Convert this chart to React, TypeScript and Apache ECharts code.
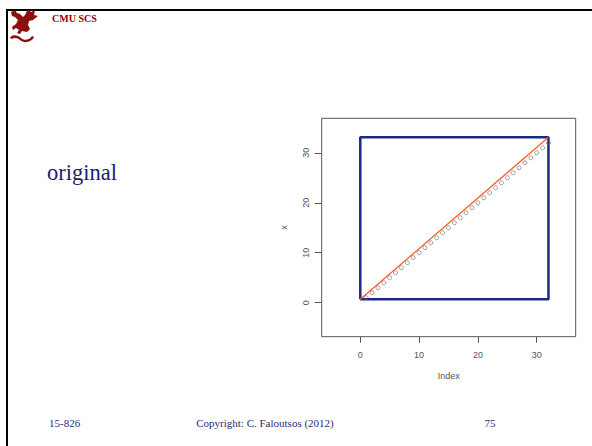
import React, { useEffect, useRef } from "react";
import * as echarts from "echarts";

const indexVals = [1, 2, 3, 4, 5, 6, 7, 8, 9, 10, 11, 12, 13, 14, 15, 16, 17, 18, 19, 20, 21, 22, 23, 24, 25, 26, 27, 28, 29, 30, 31, 32];
const xVals = [1, 2, 3, 4, 5, 6, 7, 8, 9, 10, 11, 12, 13, 14, 15, 16, 17, 18, 19, 20, 21, 22, 23, 24, 25, 26, 27, 28, 29, 30, 31, 32];
const boxX = [0, 32, 32, 0, 0];
const boxY = [0.7, 0.7, 33.1, 33.1, 0.7];
const fitX = [0, 32];
const fitY = [0.7, 33.1];
const xTicks = [0, 10, 20, 30];
const yTicks = [0, 10, 20, 30];

const dragonPath =
  "M3 4 L7 2 L9 5 L12 6 L15 9 L17 7 L20 1 L23 4 L27 2 L26 7 L30 8 L25 12 L21 13 L20 17 L22 21 L19 24 L14 23 L12 26 L9 25 L11 22 L8 20 L5 22 L4 19 L8 16 L10 12 L7 9 L4 8 Z M2 30 C4 26 10 27 13 30 C16 33 22 32 24 28 L26 29 C24 34 16 36 12 32 C10 30 6 29 4 31 Z";

let registered = false;

export default function App() {
  const ref = useRef<HTMLDivElement>(null);
  useEffect(() => {
    if (!registered) {
      echarts.graphic.registerShape("logo", echarts.graphic.extendPath(dragonPath, {}) as any);
      registered = true;
    }
    const chart = echarts.init(ref.current!, undefined, { renderer: "svg" });
    const axisFont = { fontFamily: "Liberation Sans, Arial, sans-serif", fontSize: 9, color: "#555" };
    const serif = "'Liberation Serif', 'Times New Roman', serif";
    chart.setOption({
      animation: false,
      backgroundColor: "#ffffff",
      grid: {
        left: 321.7,
        right: 16.3,
        top: 118.3,
        bottom: 109.3,
        show: true,
        borderColor: "#555",
        borderWidth: 1,
        backgroundColor: "transparent",
      },
      xAxis: {
        type: "value",
        min: -6.56,
        max: 36.63,
        name: "Index",
        nameLocation: "middle",
        nameGap: 35,
        nameTextStyle: axisFont,
        axisLine: { show: false, onZero: false },
        axisTick: { show: true, length: 6, customValues: xTicks, lineStyle: { color: "#555" } },
        axisLabel: { ...axisFont, margin: 14, customValues: xTicks },
        splitLine: { show: false },
      },
      yAxis: {
        type: "value",
        min: -6.8,
        max: 36.9,
        name: "x",
        nameLocation: "middle",
        nameGap: 33,
        nameMoveOverlap: false,
        nameTextStyle: axisFont,
        axisLine: { show: false, onZero: false },
        axisTick: { show: true, length: 7, customValues: yTicks, lineStyle: { color: "#555" } },
        axisLabel: { ...axisFont, margin: 11, rotate: 90, customValues: yTicks },
        splitLine: { show: false },
      },
      series: [
        {
          type: "line",
          data: boxX.map((v, i) => [v, boxY[i]]),
          symbol: "none",
          lineStyle: { color: "#1a2a80", width: 2.5 },
          z: 2,
        },
        {
          type: "line",
          data: fitX.map((v, i) => [v, fitY[i]]),
          symbol: "none",
          lineStyle: { color: "#ff5a1f", width: 1.2 },
          z: 3,
        },
        {
          type: "scatter",
          data: indexVals.map((v, i) => [v, xVals[i]]),
          symbol: "circle",
          symbolSize: 4,
          itemStyle: { color: "rgba(255,255,255,0)", borderColor: "#666", borderWidth: 0.8 },
          z: 4,
        },
      ],
      graphic: [
        {
          type: "rect",
          shape: { x: 7, y: 10, width: 700, height: 600 },
          style: { fill: "none", stroke: "#000", lineWidth: 2 },
          silent: true,
        },
        {
          type: "logo",
          x: 8,
          y: 8,
          scaleX: 1,
          scaleY: 1,
          style: { fill: "#8b1010" },
        },
        {
          type: "text",
          x: 52,
          y: 18,
          style: { text: "CMU SCS", font: `bold 10px ${serif}`, fill: "#990000", verticalAlign: "middle" },
        },
        {
          type: "text",
          x: 47,
          y: 172,
          style: { text: "original", font: `22.5px ${serif}`, fill: "#1c1c6e", verticalAlign: "middle" },
        },
        {
          type: "text",
          x: 49,
          y: 423,
          style: { text: "15-826", font: `11px ${serif}`, fill: "#2a2a7a", verticalAlign: "middle" },
        },
        {
          type: "text",
          x: 265,
          y: 423,
          style: {
            text: "Copyright: C. Faloutsos (2012)",
            font: `11px ${serif}`,
            fill: "#2a2a7a",
            align: "center",
            verticalAlign: "middle",
          },
        },
        {
          type: "text",
          x: 490,
          y: 423,
          style: { text: "75", font: `11px ${serif}`, fill: "#2a2a7a", align: "center", verticalAlign: "middle" },
        },
      ],
    });
    return () => chart.dispose();
  }, []);
  return <div ref={ref} style={{ position: "fixed", left: 0, top: 0, width: 592, height: 446 }} />;
}
